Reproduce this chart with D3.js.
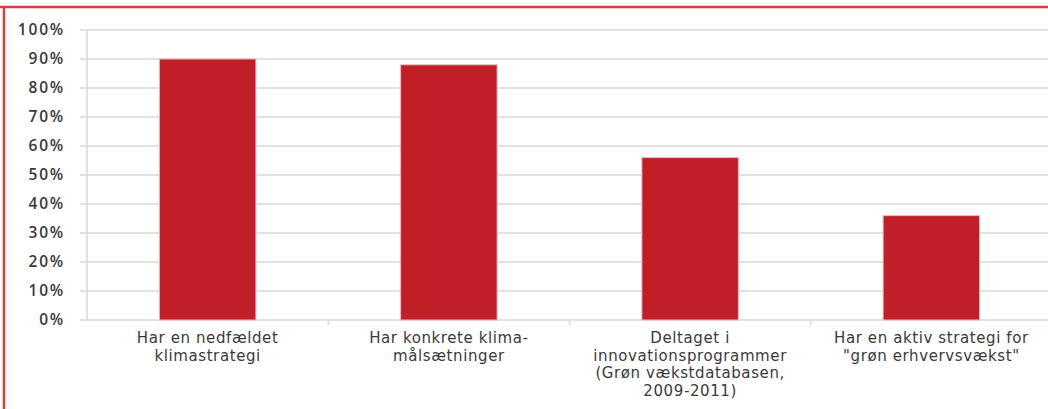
<!DOCTYPE html>
<html>
<head>
<meta charset="utf-8">
<script src="https://cdnjs.cloudflare.com/ajax/libs/d3/7.8.5/d3.min.js"></script>
<style>
  body { margin: 0; background: #fff; }
  svg { display: block; }
  text { fill: #3a3a3a; }
  .ytick { font-family: "Open Sans", "DejaVu Sans", sans-serif; font-weight: 600; }
  .cat { font-family: "DejaVu Sans", sans-serif; }
</style>
</head>
<body>
<div id="chart"></div>
<script>
const categories = [
  ["Har en nedfældet", "klimastrategi"],
  ["Har konkrete klima-", "målsætninger"],
  ["Deltaget i", "innovationsprogrammer", "(Grøn vækstdatabasen,", "2009-2011)"],
  ["Har en aktiv strategi for", "\"grøn erhvervsvækst\""]
];
const values = [0.90, 0.88, 0.56, 0.36];
const yTicks = [0, 0.1, 0.2, 0.3, 0.4, 0.5, 0.6, 0.7, 0.8, 0.9, 1.0];

const W = 1048, H = 409;
const margin = {top: 30, left: 87, bottom: 89, right: -4};
const width = W - margin.left - margin.right;
const height = H - margin.top - margin.bottom;

const svg = d3.select("#chart").append("svg")
  .attr("width", W)
  .attr("height", H);

const chart = svg.append("g").attr("transform", `translate(${margin.left},${margin.top})`);

const x = d3.scaleBand()
  .domain(d3.range(categories.length))
  .range([0, width])
  .paddingInner(0.6)
  .paddingOuter(0.3);

const y = d3.scaleLinear().domain([0, 1]).range([height, 0]);

// gridlines
chart.append("g")
  .selectAll("line")
  .data(yTicks)
  .join("line")
  .attr("x1", -7)
  .attr("x2", width)
  .attr("y1", d => y(d))
  .attr("y2", d => y(d))
  .attr("stroke", "#d9d9d9")
  .attr("stroke-width", 1.5);

// y axis line
chart.append("line")
  .attr("x1", 0).attr("x2", 0)
  .attr("y1", 0).attr("y2", height)
  .attr("stroke", "#d9d9d9")
  .attr("stroke-width", 1.5);

// y tick labels
chart.append("g")
  .selectAll("text")
  .data(yTicks)
  .join("text")
  .attr("class", "ytick")
  .attr("x", -22)
  .attr("y", d => y(d))
  .attr("dy", "0.35em")
  .attr("text-anchor", "end")
  .style("font-size", "15.5px")
  .style("letter-spacing", "1.8px")
  .text(d => d3.format(".0%")(d));

// x ticks between categories
const step = x.step();
chart.append("g")
  .selectAll("line")
  .data(d3.range(1, categories.length))
  .join("line")
  .attr("x1", d => d * step)
  .attr("x2", d => d * step)
  .attr("y1", height)
  .attr("y2", height + 5)
  .attr("stroke", "#d9d9d9")
  .attr("stroke-width", 1.5);

// bars
chart.append("g")
  .selectAll("rect")
  .data(values)
  .join("rect")
  .attr("x", (d, i) => x(i))
  .attr("y", d => y(d))
  .attr("width", x.bandwidth())
  .attr("height", d => height - y(d))
  .attr("fill", "#c11f27")
  .attr("stroke", "#e8b9bb")
  .attr("stroke-width", 1);

// category labels
const labels = chart.append("g")
  .selectAll("text")
  .data(categories)
  .join("text")
  .attr("class", "cat")
  .attr("transform", (d, i) => `translate(${x(i) + x.bandwidth() / 2},${height + 23})`)
  .attr("text-anchor", "middle")
  .style("font-size", "15px")
  .style("letter-spacing", "0.6px");

labels.selectAll("tspan")
  .data(d => d)
  .join("tspan")
  .attr("x", 0)
  .attr("y", (d, i) => i * 17.7)
  .text(d => d);

// red frame (top and left edges)
svg.append("line")
  .attr("x1", 0).attr("x2", W)
  .attr("y1", 7).attr("y2", 7)
  .attr("stroke", "#e0393e")
  .attr("stroke-width", 2.5);
svg.append("line")
  .attr("x1", 4).attr("x2", 4)
  .attr("y1", 6).attr("y2", H)
  .attr("stroke", "#e0393e")
  .attr("stroke-width", 2.5);
</script>
</body>
</html>
